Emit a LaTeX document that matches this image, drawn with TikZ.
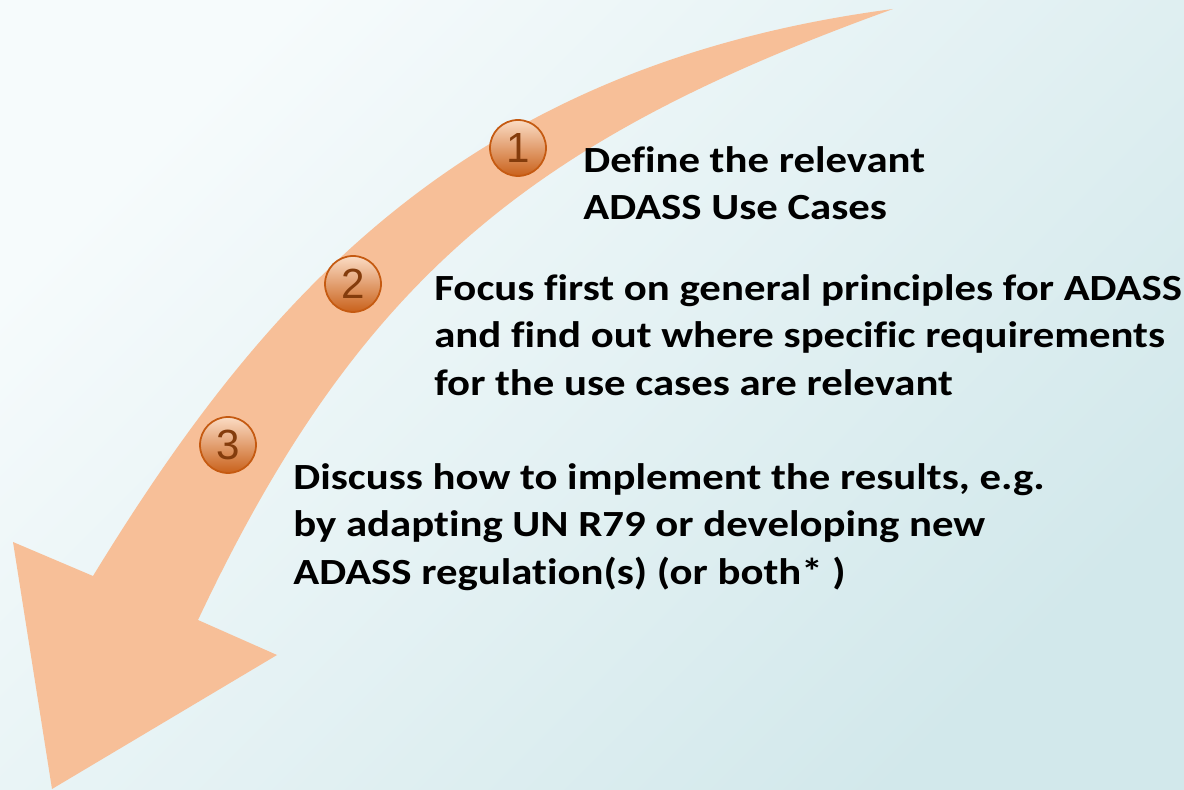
\documentclass[tikz,border=0pt]{standalone}
\usepackage{fontspec}
\setmainfont{Carlito}[FakeStretch=1.16, Ligatures=CommonOff]
\newfontfamily\digitfont{Liberation Sans}
\definecolor{bgtop}{HTML}{F6FBFC}
\definecolor{bgbottom}{HTML}{D2E8EB}
\definecolor{arrowfill}{HTML}{F7BF98}
\definecolor{ballline}{HTML}{C55A11}
\definecolor{balltop}{HTML}{FBDCC4}
\definecolor{ballbottom}{HTML}{C9611B}
\definecolor{digit}{HTML}{843C0C}
\begin{document}
\begin{tikzpicture}[x=0.02cm, y=-0.02cm,
  ball/.style = {circle, draw=ballline, line width=1pt, minimum size=1.12cm,
    inner sep=0pt, top color=balltop, bottom color=ballbottom,
    text=digit, font=\digitfont\fontsize{24}{24}\selectfont},
  caption/.style = {anchor=north west, inner sep=0pt, align=left,
    font=\bfseries\fontsize{21}{27}\selectfont}]
  % background
  \shade[top color=bgtop, bottom color=bgbottom, shading angle=45]
    (0,0) rectangle (1184,790);
  \useasboundingbox (0,0) rectangle (1184,790);
  % curved arrow
  \fill[arrowfill] (893,9) .. controls (467,65) and (265,295) .. (93,576)
    -- (13,542) -- (52,789) -- (277,655) -- (198,620)
    .. controls (361,274) and (536,138) .. (893,9) -- cycle;
  % numbered steps
  \node[ball] (num1) at (518,148) {1};
  \node[ball] (num2) at (353,284) {2};
  \node[ball] (num3) at (228,445) {3};
  \node[caption] (txt1) at (583,146) {Define the relevant\\ADASS Use Cases};
  \node[caption] (txt2) at (434,274) {Focus first on general principles for ADASS\\
    and find out where specific requirements\\for the use cases are relevant};
  \node[caption] (txt3) at (293,463) {Discuss how to implement the results, e.g.\\
    by adapting UN R79 or developing new\\ADASS regulation(s) (or both* )};
\end{tikzpicture}
\end{document}
